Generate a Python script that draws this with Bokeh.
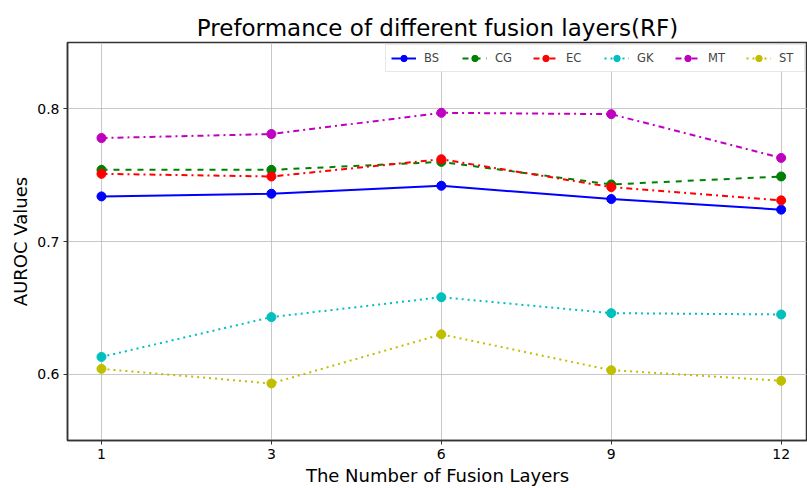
from bokeh.plotting import figure
from bokeh.models import Range1d, FixedTicker, Legend, LegendItem
from bokeh.embed import file_html
from bokeh.resources import INLINE

layers = ["1", "3", "6", "9", "12"]
BS = [0.734, 0.736, 0.742, 0.732, 0.724]
CG = [0.754, 0.754, 0.760, 0.743, 0.749]
EC = [0.751, 0.749, 0.762, 0.741, 0.731]
GK = [0.613, 0.643, 0.658, 0.646, 0.645]
MT = [0.778, 0.781, 0.797, 0.796, 0.763]
ST = [0.604, 0.593, 0.630, 0.603, 0.595]
y_ticks = [0.6, 0.7, 0.8]

series = [
    ("BS", BS, "#0000ff", "solid"),
    ("CG", CG, "#008000", "dashed"),
    ("EC", EC, "#ff0000", "dashdot"),
    ("GK", GK, "#00bfbf", "dotted"),
    ("MT", MT, "#bf00bf", "dashdot"),
    ("ST", ST, "#bfbf00", "dotted"),
]

FONT = "DejaVu Sans"
xs = list(range(len(layers)))

p = figure(width=807, height=488, output_backend="svg", toolbar_location=None,
           x_range=Range1d(-0.2, 4.155), y_range=Range1d(0.55, 0.85),
           min_border_left=67, min_border_right=0, min_border_top=42, min_border_bottom=46)

p.title.text = "Preformance of different fusion layers(RF)"
p.title.align = "center"
p.title.text_font = FONT
p.title.text_font_size = "23px"
p.title.text_font_style = "normal"
p.title.text_color = "black"
p.title.offset = 0
p.title.standoff = 4

items = []
for name, vals, color, dash in series:
    l = p.line(xs, vals, line_color=color, line_width=2, line_dash=dash)
    s = p.scatter(xs, vals, size=9, fill_color=color, line_color=color)
    items.append(LegendItem(label=name, renderers=[l, s]))

legend = Legend(items=items, orientation="horizontal", location="top_right",
                label_text_font=FONT, label_text_font_size="11.5px",
                glyph_width=25, glyph_height=16, spacing=18, padding=5,
                margin=2, label_standoff=8,
                border_line_color="#d0d0d0", border_line_width=1,
                background_fill_alpha=0.9)
p.add_layout(legend)

p.xaxis.ticker = FixedTicker(ticks=xs)
p.xaxis.major_label_overrides = {i: lab for i, lab in enumerate(layers)}
p.yaxis.ticker = FixedTicker(ticks=y_ticks)
p.yaxis.formatter.precision = 1

for ax in (p.xaxis, p.yaxis):
    ax.axis_line_color = "#333333"
    ax.axis_line_width = 1.5
    ax.major_tick_line_color = "#333333"
    ax.major_tick_out = 4
    ax.major_tick_in = 0
    ax.minor_tick_line_color = None
    ax.major_label_text_font = FONT
    ax.major_label_text_font_size = "14px"
    ax.major_label_text_color = "black"
    ax.axis_label_text_font = FONT
    ax.axis_label_text_font_size = "18px"
    ax.axis_label_text_font_style = "normal"
    ax.axis_label_text_color = "black"
    ax.axis_label_standoff = 3
    ax.major_label_standoff = 4

p.xaxis.axis_label = "The Number of Fusion Layers"
p.yaxis.axis_label = "AUROC Values"

p.xgrid.grid_line_color = "#b0b0b0"
p.ygrid.grid_line_color = "#b0b0b0"
p.xgrid.grid_line_alpha = 0.7
p.ygrid.grid_line_alpha = 0.7
p.outline_line_color = "#333333"
p.outline_line_width = 1.5

open("out.html", "w").write(file_html(p, INLINE))
